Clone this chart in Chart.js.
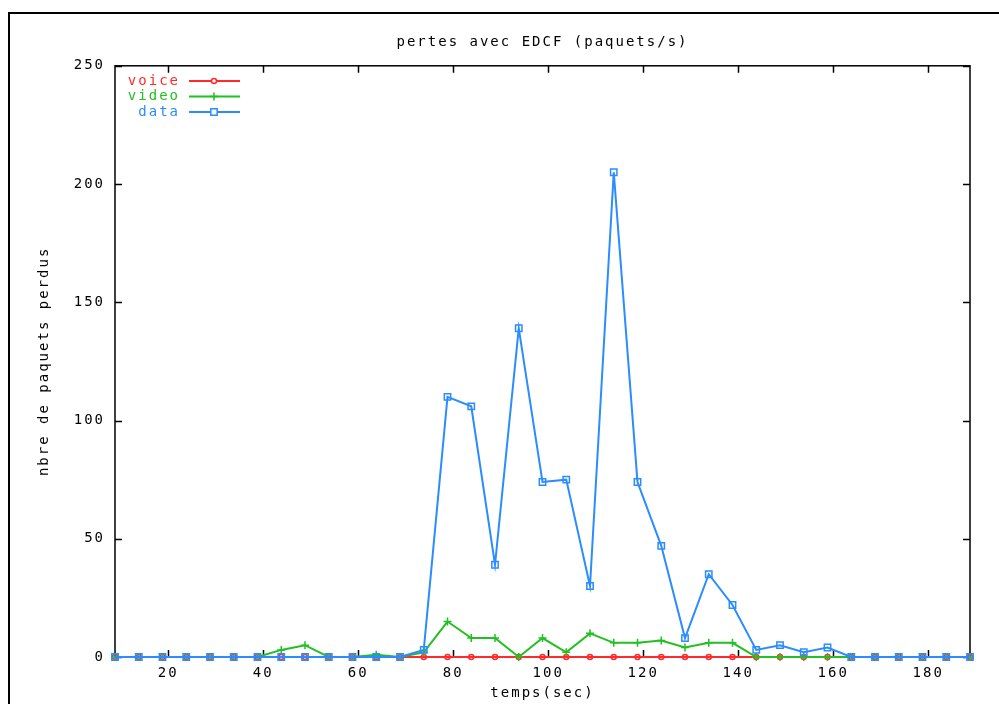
<!DOCTYPE html>
<html>
<head>
<meta charset="utf-8">
<script src="https://cdn.jsdelivr.net/npm/chart.js@4.4.1/dist/chart.umd.min.js"></script>
<style>
  html, body { margin: 0; padding: 0; background: #fff; }
  #wrap { width: 999px; height: 704px; position: relative; }
</style>
</head>
<body>
<div id="wrap"><canvas id="myChart"></canvas></div>
<script>
// temps (sec) of each sample
const times = [8.8, 13.8, 18.8, 23.8, 28.8, 33.8, 38.8, 43.8, 48.8, 53.8, 58.8, 63.8, 68.8,
               73.8, 78.8, 83.8, 88.8, 93.8, 98.8, 103.8, 108.8, 113.8, 118.8, 123.8, 128.8,
               133.8, 138.8, 143.8, 148.8, 153.8, 158.8, 163.8, 168.8, 173.8, 178.8, 183.8, 188.8];

// paquets perdus par seconde
const voice = [0, 0, 0, 0, 0, 0, 0, 0, 0, 0, 0, 0, 0,
               0, 0, 0, 0, 0, 0, 0, 0, 0, 0, 0, 0,
               0, 0, 0, 0, 0, 0, 0, 0, 0, 0, 0, 0];
const video = [0, 0, 0, 0, 0, 0, 0, 3, 5, 0, 0, 1, 0,
               2, 15, 8, 8, 0, 8, 2, 10, 6, 6, 7, 4,
               6, 6, 0, 0, 0, 0, 0, 0, 0, 0, 0, 0];
const data = [0, 0, 0, 0, 0, 0, 0, 0, 0, 0, 0, 0, 0,
              3, 110, 106, 39, 139, 74, 75, 30, 205, 74, 47, 8,
              35, 22, 3, 5, 2, 4, 0, 0, 0, 0, 0, 0];

const xTicks = [20, 40, 60, 80, 100, 120, 140, 160, 180];
const yTicks = [0, 50, 100, 150, 200, 250];

const seriesNames = ['voice', 'video', 'data'];
const seriesColors = ['#ff2a2a', '#22c022', '#2b8cff'];

const monoFont = { family: "'DejaVu Sans Mono', monospace", size: 14 };

function toPoints(values) {
    return times.map((t, i) => ({ x: t, y: values[i] }));
}

// gnuplot look: outer frame, boxed plot area with inward ticks, custom key
const gnuplotFrame = {
    id: 'gnuplotFrame',
    beforeUpdate(chart) {
        chart.ctx.letterSpacing = '2px';
    },
    beforeDraw(chart) {
        const ctx = chart.ctx;
        ctx.letterSpacing = '2px';
        ctx.save();
        ctx.strokeStyle = '#000';
        ctx.lineWidth = 2;
        ctx.beginPath();
        ctx.moveTo(9, 704);
        ctx.lineTo(9, 13);
        ctx.lineTo(999, 13);
        ctx.stroke();
        ctx.restore();
    },
    beforeDatasetsDraw(chart) {
        const { ctx, chartArea: a, scales: { x, y } } = chart;
        ctx.save();
        ctx.strokeStyle = '#000';
        ctx.lineWidth = 1.5;
        ctx.strokeRect(a.left, a.top, a.right - a.left, a.bottom - a.top);
        ctx.beginPath();
        x.ticks.forEach(t => {
            const px = Math.round(x.getPixelForValue(t.value)) + 0.5;
            ctx.moveTo(px, a.bottom); ctx.lineTo(px, a.bottom - 7);
            ctx.moveTo(px, a.top); ctx.lineTo(px, a.top + 7);
        });
        y.ticks.forEach(t => {
            const py = Math.round(y.getPixelForValue(t.value)) + 0.5;
            ctx.moveTo(a.left, py); ctx.lineTo(a.left + 7, py);
            ctx.moveTo(a.right, py); ctx.lineTo(a.right - 7, py);
        });
        ctx.stroke();
        ctx.restore();
    },
    afterDraw(chart) {
        const ctx = chart.ctx;
        ctx.save();
        ctx.font = "14px 'DejaVu Sans Mono', monospace";
        ctx.textAlign = 'right';
        ctx.textBaseline = 'middle';
        chart.data.datasets.forEach((ds, i) => {
            const ly = 81 + i * 15.5;
            ctx.fillStyle = ds.borderColor;
            ctx.fillText(ds.label, 180, ly);
            ctx.strokeStyle = ds.borderColor;
            ctx.lineWidth = 2;
            ctx.beginPath();
            ctx.moveTo(189, ly); ctx.lineTo(240, ly);
            ctx.stroke();
            ctx.fillStyle = '#fff';
            ctx.lineWidth = 1.5;
            Chart.helpers.drawPoint(ctx, {
                pointStyle: ds.pointStyle,
                radius: ds.pointRadius,
                borderWidth: 1.5
            }, 214, ly);
        });
        ctx.restore();
    }
};

const series = [voice, video, data];
const pointStyles = ['circle', 'cross', 'rect'];
const pointRadii = [2.5, 4, 4.5];

let ctx = document.getElementById('myChart').getContext('2d');
let myChart = new Chart(ctx, {
    type: 'line',
    data: {
        datasets: series.map((values, i) => ({
            label: seriesNames[i],
            data: toPoints(values),
            borderColor: seriesColors[i],
            backgroundColor: 'rgba(0,0,0,0)',
            borderWidth: 2,
            pointStyle: pointStyles[i],
            pointRadius: pointRadii[i],
            pointBorderWidth: 1.5,
            pointBackgroundColor: 'rgba(0,0,0,0)',
            pointBorderColor: seriesColors[i],
            fill: false,
            tension: 0,
            clip: false,
            order: 3 - i // data drawn last, on top
        }))
    },
    plugins: [gnuplotFrame],
    options: {
        responsive: true,
        maintainAspectRatio: false,
        animation: false,
        layout: { padding: { left: 0, right: 29, top: 0, bottom: 0 } },
        plugins: {
            legend: { display: false },
            tooltip: { enabled: false },
            title: {
                display: true,
                text: 'pertes avec EDCF (paquets/s)',
                color: '#000',
                font: { ...monoFont, weight: 'normal' },
                fullSize: false,
                padding: { top: 34, bottom: 15 }
            }
        },
        scales: {
            x: {
                type: 'linear',
                min: 8.8,
                max: 188.8,
                afterBuildTicks: scale => { scale.ticks = xTicks.map(v => ({ value: v })); },
                afterFit: scale => { scale.height = 47; },
                ticks: {
                    color: '#000',
                    font: monoFont,
                    padding: 8,
                    maxRotation: 0,
                    callback: v => String(v)
                },
                grid: { display: false, drawTicks: false },
                border: { display: false },
                title: {
                    display: true,
                    text: 'temps(sec)',
                    color: '#000',
                    font: monoFont,
                    padding: { top: 0, bottom: 2 }
                }
            },
            y: {
                type: 'linear',
                min: 0,
                max: 250,
                afterBuildTicks: scale => { scale.ticks = yTicks.map(v => ({ value: v })); },
                afterFit: scale => { scale.width = 115; },
                ticks: {
                    color: '#000',
                    font: monoFont,
                    padding: 10,
                    callback: v => String(v)
                },
                grid: { display: false, drawTicks: false },
                border: { display: false },
                title: {
                    display: true,
                    text: 'nbre de paquets perdus',
                    color: '#000',
                    font: monoFont,
                    padding: { top: 36, bottom: 0 }
                }
            }
        }
    }
});
</script>
</body>
</html>
